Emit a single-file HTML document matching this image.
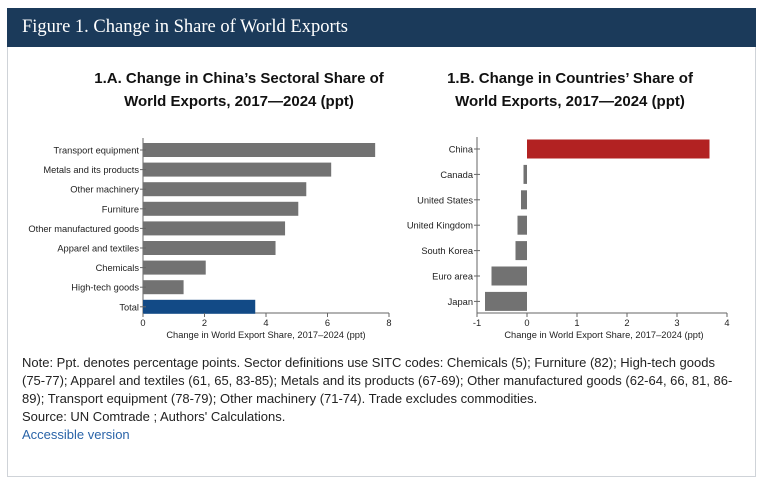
<!DOCTYPE html>
<html><head><meta charset="utf-8"><style>
body{margin:0;width:765px;height:485px;background:#fff;position:relative;overflow:hidden;font-family:"Liberation Sans",Arial,sans-serif}
#box{position:absolute;left:7px;top:8px;width:749px;height:469px;border:1px solid #cfd3d8;box-sizing:border-box}
#hdr{position:absolute;left:7px;top:8px;width:749px;height:39px;background:#1b3a5a;color:#fff;font-family:"Liberation Serif",serif;font-size:18.5px;line-height:39px;padding-left:15px;box-sizing:border-box}
.ttl{position:absolute;font-weight:bold;font-size:15px;line-height:23px;color:#111;text-align:center}
#note{position:absolute;left:22px;top:354px;width:712px;font-size:13px;line-height:18px;color:#222}
#note a{color:#2a64a8;text-decoration:none}
svg{position:absolute;left:0;top:0}
</style></head><body>
<div id="box"></div>
<div id="hdr">Figure 1. Change in Share of World Exports</div>
<div class="ttl" style="left:80px;top:67px;width:318px">1.A. Change in China’s Sectoral Share of<br>World Exports, 2017—2024 (ppt)</div>
<div class="ttl" style="left:420px;top:67px;width:300px">1.B. Change in Countries’ Share of<br>World Exports, 2017—2024 (ppt)</div>
<svg id="chart" width="765" height="485"></svg>
<div id="note">Note: Ppt. denotes percentage points. Sector definitions use SITC codes: Chemicals (5); Furniture (82); High-tech goods (75-77); Apparel and textiles (61, 65, 83-85); Metals and its products (67-69); Other manufactured goods (62-64, 66, 81, 86-89); Transport equipment (78-79); Other machinery (71-74). Trade excludes commodities.<br>Source: UN Comtrade ; Authors' Calculations.<br><a href="#">Accessible version</a></div>
<script>
const sectors=["Transport equipment","Metals and its products","Other machinery","Furniture","Other manufactured goods","Apparel and textiles","Chemicals","High-tech goods","Total"];
const sectorVals=[7.55,6.12,5.31,5.05,4.62,4.31,2.04,1.32,3.65];
const ticksA=[0,2,4,6,8];
const countries=["China","Canada","United States","United Kingdom","South Korea","Euro area","Japan"];
const countryVals=[3.65,-0.07,-0.12,-0.19,-0.23,-0.71,-0.84];
const ticksB=[-1,0,1,2,3,4];
const NS="http://www.w3.org/2000/svg";
const svg=document.getElementById('chart');
function mk(t,a){const e=document.createElementNS(NS,t);for(const k in a)e.setAttribute(k,a[k]);svg.appendChild(e);return e;}
function txt(x,y,s,anchor,size){const e=mk('text',{x:x,y:y,'text-anchor':anchor,'font-size':size,fill:'#222','font-family':'Liberation Sans, Arial, sans-serif'});e.textContent=s;return e;}
// Chart A
const ax0=143,ax1=389,ay0=138,ay1=313,rowA=19.6,topA=150;
const xA=v=>ax0+(v-0)/(8-0)*(ax1-ax0);
const yA=i=>topA+i*rowA;
let l=mk('line',{x1:ax0,y1:ay0,x2:ax0,y2:ay1,stroke:'#666'});

l=mk('line',{x1:ax0,y1:ay1,x2:ax1,y2:ay1,stroke:'#666'});

sectors.forEach((s,i)=>{
  const r=mk('rect',{x:xA(0),y:yA(i)-7,width:xA(sectorVals[i])-xA(0),height:14,fill:i==8?'#124a86':'#727272'});
  
  
  mk('line',{x1:ax0-3,y1:yA(i),x2:ax0+3,y2:yA(i),stroke:'#666'});
  const t=txt(ax0-4,yA(i)+3.5,s,'end',9.3);
  
});
ticksA.forEach(v=>{mk('line',{x1:xA(v),y1:ay1,x2:xA(v),y2:ay1+4,stroke:'#666'});
  const t=txt(xA(v),ay1+13,String(v),'middle',9.3);});
let tt=txt(266,ay1+25,'Change in World Export Share, 2017–2024 (ppt)','middle',9.3);

// Chart B
const bx0=477,bx1=727,by0=137,by1=313,rowB=25.4,topB=149;
const xB=v=>bx0+(v+1)/5*(bx1-bx0);
const yB=i=>topB+i*rowB;
l=mk('line',{x1:bx0,y1:by0,x2:bx0,y2:by1,stroke:'#666'});

l=mk('line',{x1:bx0,y1:by1,x2:bx1,y2:by1,stroke:'#666'});

countries.forEach((c,i)=>{
  const v=countryVals[i],x=Math.min(xB(0),xB(v));
  const r=mk('rect',{x:x,y:yB(i)-9.5,width:Math.abs(xB(v)-xB(0)),height:19,fill:i==0?'#b22222':'#727272'});
  
  
  mk('line',{x1:bx0-3,y1:yB(i),x2:bx0+3,y2:yB(i),stroke:'#666'});
  const t=txt(bx0-4,yB(i)+3.5,c,'end',9.3);
  
});
ticksB.forEach(v=>{mk('line',{x1:xB(v),y1:by1,x2:xB(v),y2:by1+4,stroke:'#666'});
  const t=txt(xB(v),by1+13,String(v),'middle',9.3);});
tt=txt(604,by1+25,'Change in World Export Share, 2017–2024 (ppt)','middle',9.3);

</script>
</body></html>
